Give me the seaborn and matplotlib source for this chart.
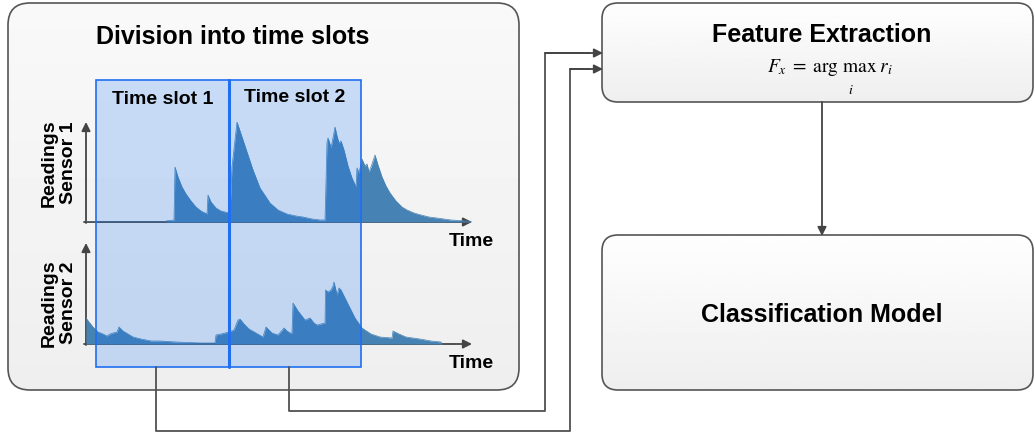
import numpy as np
import pandas as pd
import seaborn as sns
import matplotlib.pyplot as plt
from matplotlib.patches import FancyBboxPatch, Rectangle

# sensor readings (time units, reading units)
s1_time = [0, 80, 80, 88, 89, 92, 96, 100, 105, 110, 115, 121, 122, 125, 130, 135, 143,
           144, 146, 151, 156, 161, 167, 174, 184, 192, 201, 210, 217, 226, 234, 239,
           240, 241, 242, 244, 245, 247, 249, 251, 253, 255, 258, 262, 266, 270, 271,
           273, 276, 279, 281, 283, 285, 289, 292, 296, 300, 304, 310, 316, 321, 328,
           335, 343, 351, 365, 381, 386]
s1_read = [0, 0, 1, 2, 55, 45, 35, 28, 21, 15, 11, 8, 27, 20, 14, 11, 9,
           9, 55, 100, 85, 70, 52, 34, 19, 12, 8, 6, 5, 3, 2, 2,
           40, 80, 84, 78, 74, 84, 95, 86, 79, 81, 72, 56, 44, 35, 54,
           49, 63, 56, 58, 50, 55, 67, 57, 45, 36, 29, 21, 15, 12, 9,
           7, 5, 4, 2, 1, 0]

s2_time = [0, 3, 7, 12, 17, 21, 24, 27, 31, 33, 37, 42, 47, 55, 65, 74, 90, 114, 129,
           130, 135, 143, 148, 152, 154, 158, 163, 170, 177, 180, 186, 192, 198, 201,
           204, 206, 207, 212, 219, 224, 228, 231, 239, 239.5, 242, 245, 247, 248,
           251, 253, 255, 259, 264, 269, 276, 285, 294, 306, 307, 313, 320, 334, 345,
           355, 356]
s2_read = [26, 22, 17, 12, 10, 8, 10, 11, 12, 17, 13, 10, 7, 5, 3, 3, 2, 1, 1,
           9, 10, 12, 14, 24, 25, 20, 15, 11, 7, 17, 11, 9, 16, 13,
           11, 11, 41, 33, 24, 26, 21, 19, 21, 54, 52, 54, 58, 62,
           49, 56, 54, 46, 36, 26, 16, 10, 7, 6, 13, 10, 7, 5, 3,
           2, 0]

slot_labels = ['Time slot 1', 'Time slot 2']
sensor_labels = ['Readings\nSensor 1', 'Readings\nSensor 2']

W, H = 1035, 432
sns.set_theme(style='white')
plt.rcParams['font.family'] = ['Liberation Sans', 'DejaVu Sans']
plt.rcParams['mathtext.fontset'] = 'stix'
plt.rcParams['text.color'] = 'black'

fig = plt.figure(figsize=(W / 100, H / 100), dpi=100)
fig.patch.set_facecolor('white')


def pixel_axes(z):
    a = fig.add_axes([0, 0, 1, 1], zorder=z)
    a.set_xlim(0, W)
    a.set_ylim(H, 0)
    a.set_facecolor('none')
    a.axis('off')
    return a


bg = pixel_axes(0)
edge = '#555555'
line_c = '#505050'


def grad_box(x0, y0, x1, y1, r, top, bottom):
    box = FancyBboxPatch((x0, y0), x1 - x0, y1 - y0,
                         boxstyle=f'round,pad=0,rounding_size={r}',
                         fc='none', ec=edge, lw=1.2, zorder=3)
    bg.add_patch(box)
    g = np.linspace(top, bottom, 64)[:, None] * np.ones((1, 2))
    im = bg.imshow(g, cmap='gray', vmin=0, vmax=1, extent=(x0, x1, y1, y0),
                   aspect='auto', origin='upper', zorder=1)
    im.set_clip_path(box)


grad_box(8, 3, 519, 390, 22, 0.975, 0.935)
grad_box(602, 3, 1033, 102, 16, 0.995, 0.935)
grad_box(602, 235, 1033, 390, 16, 0.995, 0.935)
bg.set_xlim(0, W)
bg.set_ylim(H, 0)

arrow = dict(arrowstyle='-|>', mutation_scale=13, color='#444444', lw=1.3,
             shrinkA=0, shrinkB=0)

# sensor axes
for i, (t, r, base, top, lab_y) in enumerate([(s1_time, s1_read, 222, 122, 163),
                                              (s2_time, s2_read, 344, 243, 303)]):
    ax = fig.add_axes([86 / W, (H - base) / H, 386 / W, (base - top) / H], zorder=1)
    ax.set_facecolor('none')
    df = pd.DataFrame({'time': t, 'reading': r})
    ax.fill_between(df['time'], df['reading'], 0, color='#4682b4', lw=0)
    sns.lineplot(data=df, x='time', y='reading', ax=ax, color='#4682b4', lw=0.5,
                 sort=False, estimator=None)
    ax.set_xlim(0, 386)
    ax.set_ylim(0, base - top)
    ax.axis('off')
    bg.annotate('', xy=(472, base), xytext=(84, base), arrowprops=arrow, zorder=5)
    bg.annotate('', xy=(86, top), xytext=(86, base + 1), arrowprops=arrow, zorder=5)
    bg.text(471, base + 20, 'Time', fontsize=14, fontweight='bold', ha='center',
            va='center', zorder=5)
    bg.text(59, lab_y, sensor_labels[i], fontsize=14, fontweight='bold',
            rotation=90, ha='center', va='center', multialignment='center', zorder=5)

ov = pixel_axes(2)
slot_fc = (10 / 255, 110 / 255, 247 / 255, 0.2)
for x0, x1, lab, ty in [(96, 229, slot_labels[0], 99), (229, 361, slot_labels[1], 97)]:
    ov.add_patch(Rectangle((x0, 80), x1 - x0, 287, fc=slot_fc, ec='#1f6ff0', lw=1.2))
    ov.text((x0 + x1) / 2, ty, lab, fontsize=14, fontweight='bold', ha='center',
            va='center')
ov.plot([229, 229], [80, 367], color='#1f6ff0', lw=2.2)

ov.text(233, 37, 'Division into time slots', fontsize=18, fontweight='bold',
        ha='center', va='center')
ov.text(822, 35, 'Feature Extraction', fontsize=18, fontweight='bold',
        ha='center', va='center')
ov.text(830, 67, r'$F_x\;=\;\mathrm{arg\ max}\;r_i$', fontsize=14,
        ha='center', va='center')
ov.text(851, 90, r'$i$', fontsize=10, ha='center', va='center')
ov.text(822, 315, 'Classification Model', fontsize=18, fontweight='bold',
        ha='center', va='center')

# connectors
ov.plot([156, 156, 570, 570, 590], [367, 431, 431, 69, 69], color=line_c, lw=1.3)
ov.annotate('', xy=(603, 69), xytext=(570, 69), arrowprops=arrow)
ov.plot([289, 289, 545, 545, 590], [367, 411, 411, 53, 53], color=line_c, lw=1.3)
ov.annotate('', xy=(603, 53), xytext=(545, 53), arrowprops=arrow)
ov.annotate('', xy=(822, 236), xytext=(822, 102), arrowprops=arrow)

fig.savefig('out.png', dpi=100)
